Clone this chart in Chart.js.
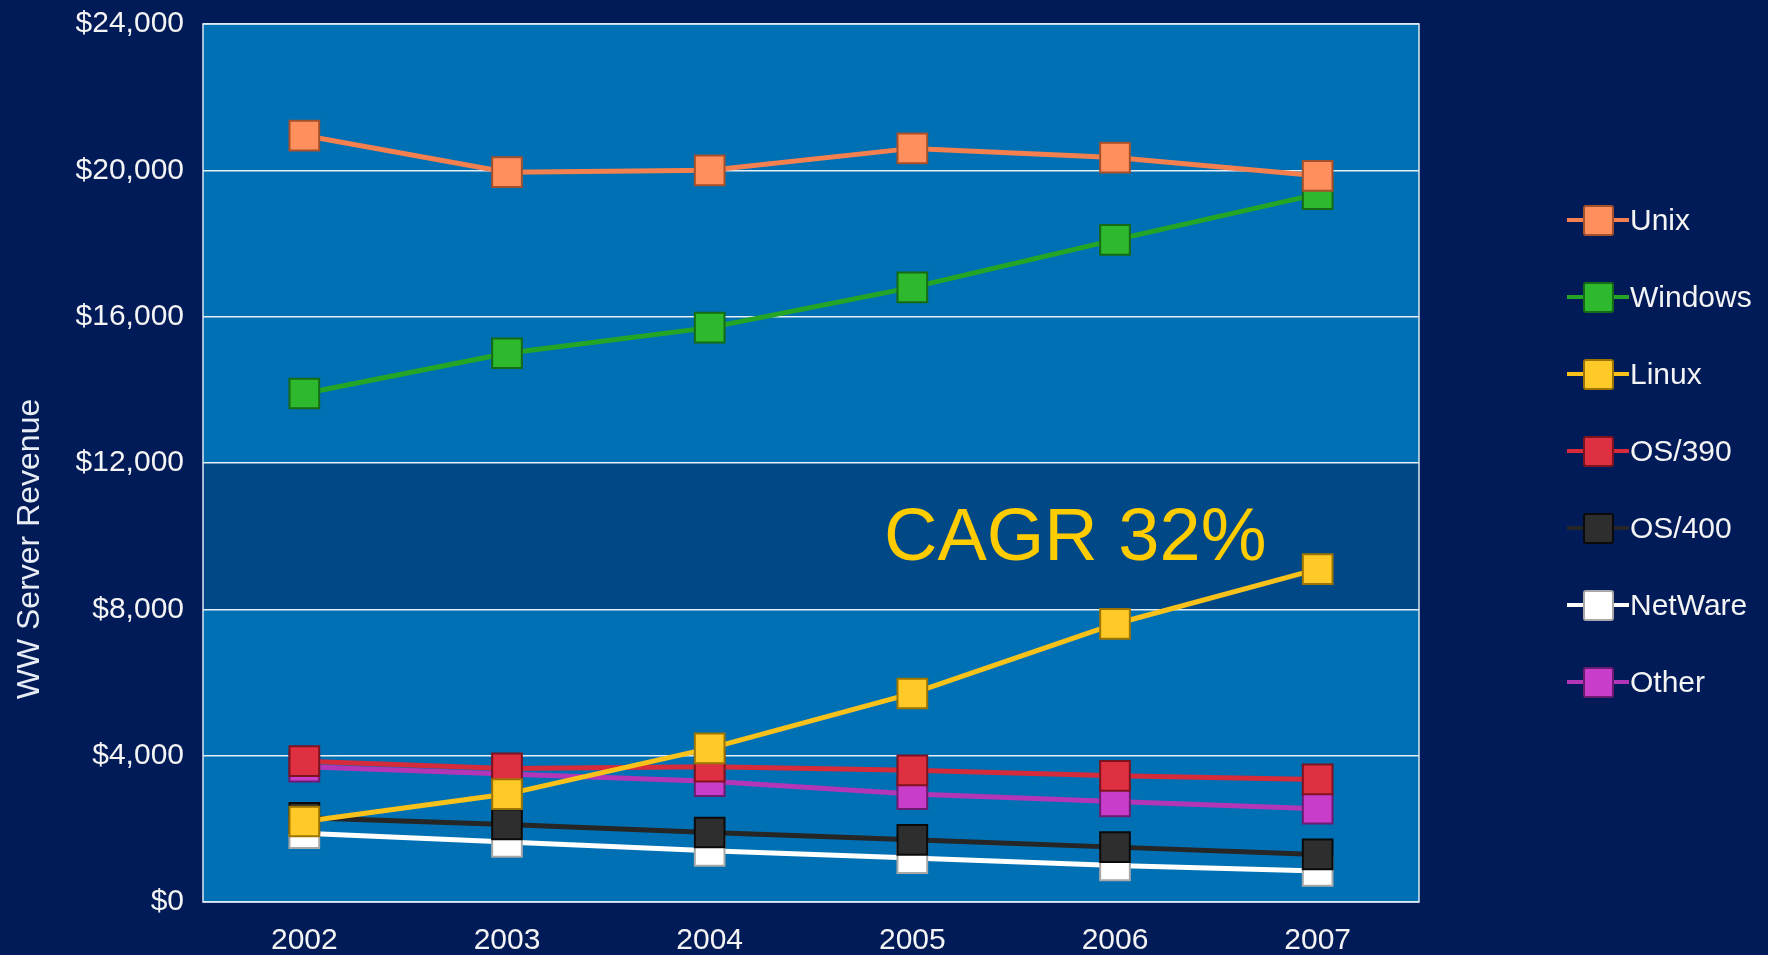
<!DOCTYPE html>
<html>
<head>
<meta charset="utf-8">
<title>WW Server Revenue</title>
<script src="https://cdn.jsdelivr.net/npm/chart.js@4"></script>
<style>
  html, body { margin: 0; padding: 0; background: #001B57; }
  #wrap { position: relative; width: 1768px; height: 955px; overflow: hidden; }
  #legend { position: absolute; left: 1567px; top: 181px; font-family: "Liberation Sans", Arial, sans-serif; font-size: 30px; color: #F4F4F4; }
  .item { display: flex; align-items: center; height: 77px; }
  .mark { position: relative; width: 62px; height: 32px; margin-right: 1px; }
  .mark .ln { position: absolute; left: 0; right: 0; top: 14px; height: 4px; }
  .mark .bx { position: absolute; left: 16px; top: 1px; width: 27px; height: 27px; border: 2px solid; border-radius: 3px; }
</style>
</head>
<body>
<div id="wrap">
  <canvas id="chart" width="1768" height="955"></canvas>
  <div id="legend"></div>
</div>
<script>
// years on the x axis
const years = ["2002", "2003", "2004", "2005", "2006", "2007"];

// revenue per OS, in $M
const unix    = [20950, 19950, 20000, 20600, 20350, 19850];
const windows = [13900, 15000, 15700, 16800, 18100, 19350];
const linux   = [2200, 2950, 4200, 5700, 7600, 9100];
const os390   = [3850, 3650, 3700, 3600, 3450, 3350];
const os400   = [2300, 2120, 1900, 1700, 1500, 1300];
const netware = [1880, 1640, 1400, 1200, 1000, 850];
const other   = [3700, 3500, 3300, 2950, 2750, 2550];

const yTickValues = [0, 4000, 8000, 12000, 16000, 20000, 24000];
const highlightBand = [8000, 12000];

const seriesNames = ["Unix", "Windows", "Linux", "OS/390", "OS/400", "NetWare", "Other"];
const seriesData = [unix, windows, linux, os390, os400, netware, other];
const lineColors = ["#F4804F", "#25A525", "#F9C21A", "#D52B3B", "#262626", "#FFFFFF", "#B436B8"];
const markColors = ["#FF8F5C", "#2DB82D", "#FFC928", "#DE3040", "#2E2E2E", "#FFFFFF", "#C83ECB"];
const edgeColors = ["#A5502C", "#156A15", "#9C7400", "#7E1320", "#0A0A0A", "#A8A8A8", "#6C1B70"];

const fontFamily = "'Liberation Sans', Arial, sans-serif";

const datasets = seriesNames.map(function(name, i) {
    return {
        label: name,
        data: seriesData[i],
        borderColor: lineColors[i],
        borderWidth: 5,
        backgroundColor: markColors[i],
        pointStyle: "rect",
        pointRadius: 21,
        pointHoverRadius: 21,
        pointBorderColor: edgeColors[i],
        pointBorderWidth: 2,
        pointBackgroundColor: markColors[i],
        tension: 0
    };
});

// plot background, darker band, frame, annotation and axis title
const decorPlugin = {
    id: "decor",
    beforeDraw: function(chart) {
        const ctx = chart.ctx;
        const area = chart.chartArea;
        const y = chart.scales.y;
        ctx.save();
        ctx.fillStyle = "#0070B4";
        ctx.fillRect(area.left, area.top, area.right - area.left, area.bottom - area.top);
        const bandTop = y.getPixelForValue(highlightBand[1]);
        const bandBottom = y.getPixelForValue(highlightBand[0]);
        ctx.fillStyle = "#004886";
        ctx.fillRect(area.left, bandTop, area.right - area.left, bandBottom - bandTop);
        ctx.restore();
    },
    afterDraw: function(chart) {
        const ctx = chart.ctx;
        const area = chart.chartArea;
        const x = chart.scales.x;
        const y = chart.scales.y;
        ctx.save();
        ctx.strokeStyle = "#DCE8F4";
        ctx.lineWidth = 1.5;
        ctx.strokeRect(area.left, area.top, area.right - area.left, area.bottom - area.top);

        // CAGR label next to the Linux line
        ctx.fillStyle = "#FFCC00";
        ctx.font = "74px " + fontFamily;
        ctx.textAlign = "left";
        ctx.textBaseline = "alphabetic";
        ctx.fillText("CAGR 32%", x.getPixelForValue(2.86), y.getPixelForValue(9350));

        // y axis title
        ctx.translate(30, 549);
        ctx.rotate(-Math.PI / 2);
        ctx.fillStyle = "#E8ECF4";
        ctx.font = "32px " + fontFamily;
        ctx.textAlign = "center";
        ctx.textBaseline = "middle";
        ctx.fillText("WW Server Revenue", 0, 0);
        ctx.restore();
    }
};

const ctx = document.getElementById("chart").getContext("2d");
const chart = new Chart(ctx, {
    type: "line",
    data: { labels: years, datasets: datasets },
    options: {
        responsive: false,
        animation: false,
        layout: { padding: { top: 24, right: 349, bottom: 0, left: 0 } },
        plugins: {
            legend: { display: false },
            tooltip: { enabled: false }
        },
        scales: {
            x: {
                offset: true,
                afterFit: function(scale) { scale.height = 53; },
                grid: { display: false, drawTicks: false },
                border: { display: false },
                ticks: {
                    color: "#F4F4F4",
                    padding: 21,
                    font: { family: fontFamily, size: 30 }
                }
            },
            y: {
                min: 0,
                max: 24000,
                afterBuildTicks: function(scale) {
                    scale.ticks = yTickValues.map(function(v) { return { value: v }; });
                },
                afterFit: function(scale) {
                    scale.width = 203;
                    scale.paddingTop = 0;
                    scale.paddingBottom = 0;
                },
                grid: { color: "#E6EEF6", lineWidth: 1.5, drawTicks: false },
                border: { display: false },
                ticks: {
                    color: "#F4F4F4",
                    padding: 19,
                    font: { family: fontFamily, size: 30 },
                    callback: function(v) { return "$" + Number(v).toLocaleString("en-US"); }
                }
            }
        }
    },
    plugins: [decorPlugin]
});

// legend built from the chart's datasets
const legend = document.getElementById("legend");
chart.data.datasets.forEach(function(ds, i) {
    const row = document.createElement("div");
    row.className = "item";
    const mark = document.createElement("span");
    mark.className = "mark";
    const ln = document.createElement("span");
    ln.className = "ln";
    ln.style.background = lineColors[i];
    const bx = document.createElement("span");
    bx.className = "bx";
    bx.style.background = markColors[i];
    bx.style.borderColor = edgeColors[i];
    mark.appendChild(ln);
    mark.appendChild(bx);
    const txt = document.createElement("span");
    txt.textContent = ds.label;
    row.appendChild(mark);
    row.appendChild(txt);
    legend.appendChild(row);
});
</script>
</body>
</html>
